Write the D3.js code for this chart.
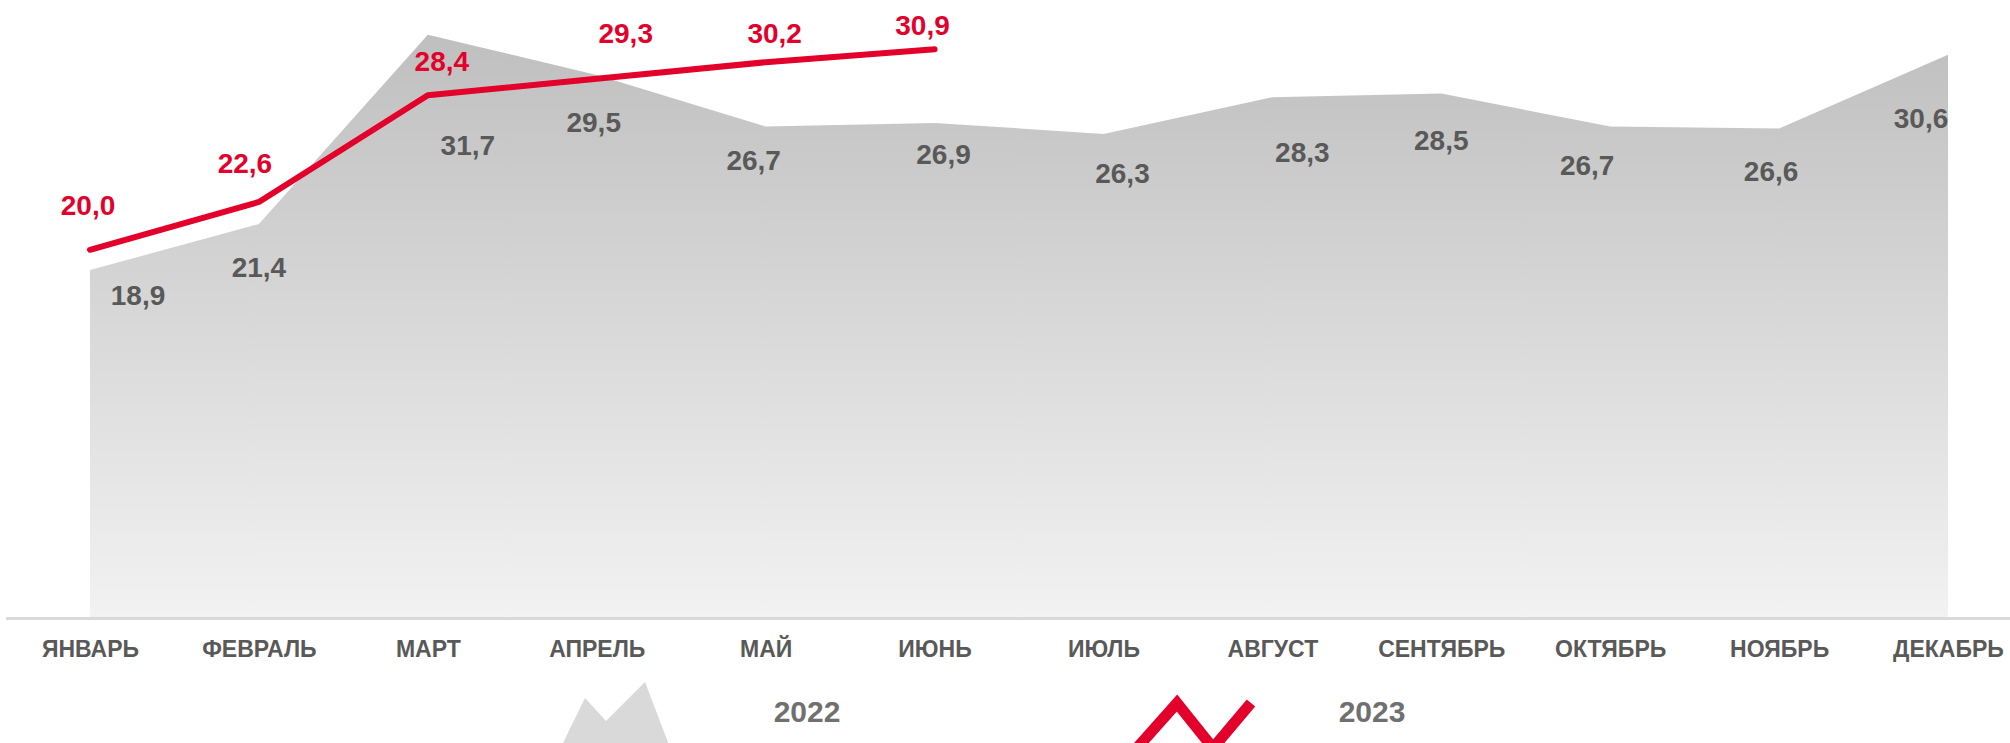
<!DOCTYPE html>
<html>
<head>
<meta charset="utf-8">
<script src="https://cdn.jsdelivr.net/npm/d3@7"></script>
<style>
  html, body { margin: 0; padding: 0; background: #fff; }
  svg { display: block; font-family: "Liberation Sans", Arial, sans-serif; }
</style>
</head>
<body>
<div id="chart"></div>
<script>
// Months (x categories)
const months = ['ЯНВАРЬ', 'ФЕВРАЛЬ', 'МАРТ', 'АПРЕЛЬ', 'МАЙ', 'ИЮНЬ',
  'ИЮЛЬ', 'АВГУСТ', 'СЕНТЯБРЬ', 'ОКТЯБРЬ', 'НОЯБРЬ', 'ДЕКАБРЬ'];

// 2022 - grey area, full year
const values2022 = [18.9, 21.4, 31.7, 29.5, 26.7, 26.9, 26.3, 28.3, 28.5, 26.7, 26.6, 30.6];

// 2023 - red line, Jan..Jun
const values2023 = [20.0, 22.6, 28.4, 29.3, 30.2, 30.9];

const seriesNames = ['2022', '2023'];

// hand-placed label nudges (dx, dy from the point), like the original layout
const nudge2022 = [[48, 35], [0, 53], [40, 120], [-3, 57], [-12, 43], [9, 41],
  [19, 49], [30, 65], [0, 57], [-23, 48], [-8, 53], [-27, 73]];
const nudge2023 = [[-2, -35], [-14, -29], [14, -24], [29, -36], [9, -19], [-12, -14]];

const W = 2010, H = 743;
const baseY = 617.6;

const svg = d3.select('#chart').append('svg')
  .attr('width', W)
  .attr('height', H);

const x = d3.scalePoint()
  .domain(months)
  .range([90, 1948]);

const y = d3.scaleLinear()
  .domain([0, 35])
  .range([baseY, baseY - 35 * 18.39]);

const fmt = v => d3.format('.1f')(v).replace('.', ',');

// gradient for the area
const defs = svg.append('defs');
const grad = defs.append('linearGradient')
  .attr('id', 'greyGrad')
  .attr('gradientUnits', 'userSpaceOnUse')
  .attr('x1', 0).attr('x2', 0)
  .attr('y1', y(d3.max(values2022))).attr('y2', y(0));
grad.append('stop').attr('offset', '0%').attr('stop-color', '#bfbfbf');
grad.append('stop').attr('offset', '100%').attr('stop-color', '#f2f2f2');

const data2022 = months.map((m, i) => ({ m, v: values2022[i] }));
const data2023 = values2023.map((v, i) => ({ m: months[i], v }));

// Area 2022
svg.append('path')
  .datum(data2022)
  .attr('fill', 'url(#greyGrad)')
  .attr('d', d3.area()
    .x(d => x(d.m))
    .y0(y(0))
    .y1(d => y(d.v)));

// baseline
svg.append('line')
  .attr('x1', 6).attr('x2', W)
  .attr('y1', baseY + 1).attr('y2', baseY + 1)
  .attr('stroke', '#d9d9d9')
  .attr('stroke-width', 3);

// Line 2023
svg.append('path')
  .datum(data2023)
  .attr('fill', 'none')
  .attr('stroke', '#e3002b')
  .attr('stroke-width', 6)
  .attr('stroke-linecap', 'round')
  .attr('stroke-linejoin', 'round')
  .attr('d', d3.line()
    .x(d => x(d.m))
    .y(d => y(d.v)));

// Value labels 2022
svg.selectAll('.lbl22')
  .data(data2022)
  .enter()
  .append('text')
  .attr('class', 'lbl22')
  .attr('x', (d, i) => x(d.m) + nudge2022[i][0])
  .attr('y', (d, i) => y(d.v) + nudge2022[i][1])
  .attr('text-anchor', 'middle')
  .attr('font-size', 28)
  .attr('font-weight', 'bold')
  .attr('fill', '#595959')
  .text(d => fmt(d.v));

// Value labels 2023
svg.selectAll('.lbl23')
  .data(data2023)
  .enter()
  .append('text')
  .attr('class', 'lbl23')
  .attr('x', (d, i) => x(d.m) + nudge2023[i][0])
  .attr('y', (d, i) => y(d.v) + nudge2023[i][1])
  .attr('text-anchor', 'middle')
  .attr('font-size', 28)
  .attr('font-weight', 'bold')
  .attr('fill', '#e3002b')
  .text(d => fmt(d.v));

// X axis (month names)
const xAxis = svg.append('g')
  .attr('transform', `translate(0,${baseY})`)
  .call(d3.axisBottom(x).tickSize(0));
xAxis.select('.domain').remove();
xAxis.selectAll('text')
  .attr('y', 39)
  .attr('dy', null)
  .attr('font-size', 23)
  .attr('font-weight', 'bold')
  .attr('font-family', '"Liberation Sans", Arial, sans-serif')
  .attr('fill', '#595959');

// Legend
const legend = svg.append('g');
legend.append('path')
  .attr('d', 'M562,745 L585,698 L606,721 L645,682 L669,745 Z')
  .attr('fill', '#d9d9d9');
legend.append('text')
  .attr('x', 807).attr('y', 722)
  .attr('text-anchor', 'middle')
  .attr('font-size', 30)
  .attr('font-weight', 'bold')
  .attr('fill', '#707070')
  .text(seriesNames[0]);

legend.append('path')
  .attr('d', 'M1137,748 L1177,703 L1213,748 L1251,703')
  .attr('fill', 'none')
  .attr('stroke', '#e3002b')
  .attr('stroke-width', 11)
  .attr('stroke-linejoin', 'miter');
legend.append('text')
  .attr('x', 1372).attr('y', 722)
  .attr('text-anchor', 'middle')
  .attr('font-size', 30)
  .attr('font-weight', 'bold')
  .attr('fill', '#707070')
  .text(seriesNames[1]);
</script>
</body>
</html>
